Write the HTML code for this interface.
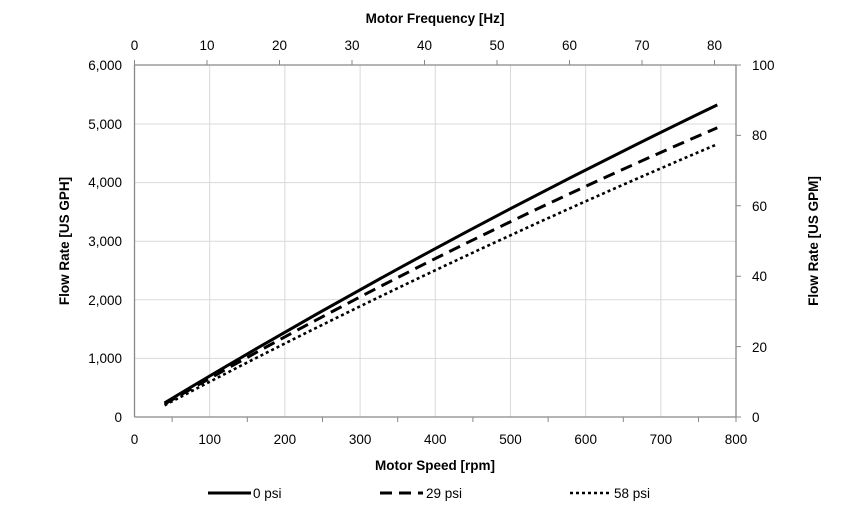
<!DOCTYPE html><html><head><style>body{margin:0;background:#fff}svg{display:block;font-family:"Liberation Sans",sans-serif}</style></head><body>
<svg width="859" height="513" viewBox="0 0 859 513">
<g stroke="#d9d9d9" stroke-width="1">
<line x1="134.5" y1="358.4" x2="736" y2="358.4"/><line x1="134.5" y1="299.8" x2="736" y2="299.8"/><line x1="134.5" y1="241.2" x2="736" y2="241.2"/><line x1="134.5" y1="182.6" x2="736" y2="182.6"/><line x1="134.5" y1="124" x2="736" y2="124"/><line x1="134.5" y1="65" x2="736" y2="65"/>
<line x1="209.7" y1="65" x2="209.7" y2="417"/><line x1="284.9" y1="65" x2="284.9" y2="417"/><line x1="360.1" y1="65" x2="360.1" y2="417"/><line x1="435.3" y1="65" x2="435.3" y2="417"/><line x1="510.5" y1="65" x2="510.5" y2="417"/><line x1="585.7" y1="65" x2="585.7" y2="417"/><line x1="660.9" y1="65" x2="660.9" y2="417"/>
</g>
<g stroke="#888" stroke-width="1.3" fill="none">
<line x1="134.5" y1="65" x2="134.5" y2="417"/><line x1="736" y1="65" x2="736" y2="417"/><line x1="134.5" y1="417" x2="736" y2="417"/><line x1="134.5" y1="65" x2="736" y2="65"/>
</g>
<g stroke="#888" stroke-width="1">
<path d="M172.1 417v5M247.3 417v5M322.5 417v5M397.7 417v5M472.9 417v5M548.1 417v5M623.3 417v5M698.5 417v5M736 417v5"/>
<path d="M134.5 65v-5M207 65v-5M279.5 65v-5M352 65v-5M424.5 65v-5M497 65v-5M569.5 65v-5M642 65v-5M714.5 65v-5"/>
<path d="M736 65h5M736 135.4h5M736 205.8h5M736 276.2h5M736 346.6h5M736 417h5"/>
</g>
<g font-size="13.5" fill="#000">
<g text-anchor="end"><text x="122" y="422">0</text><text x="122" y="363">1,000</text><text x="122" y="305">2,000</text><text x="122" y="246">3,000</text><text x="122" y="187">4,000</text><text x="122" y="129">5,000</text><text x="122" y="70">6,000</text></g>
<g text-anchor="start"><text x="752" y="422">0</text><text x="752" y="352">20</text><text x="752" y="281">40</text><text x="752" y="211">60</text><text x="752" y="140">80</text><text x="752" y="70">100</text></g>
<g text-anchor="middle"><text x="134.5" y="444">0</text><text x="209.7" y="444">100</text><text x="284.9" y="444">200</text><text x="360.1" y="444">300</text><text x="435.3" y="444">400</text><text x="510.5" y="444">500</text><text x="585.7" y="444">600</text><text x="660.9" y="444">700</text><text x="736" y="444">800</text>
<text x="134.5" y="50">0</text><text x="207" y="50">10</text><text x="279.5" y="50">20</text><text x="352" y="50">30</text><text x="424.5" y="50">40</text><text x="497" y="50">50</text><text x="569.5" y="50">60</text><text x="642" y="50">70</text><text x="714.5" y="50">80</text></g>
<g font-weight="bold" text-anchor="middle"><text x="435" y="470">Motor Speed [rpm]</text><text x="435" y="23">Motor Frequency [Hz]</text>
<text transform="translate(69,241) rotate(-90)">Flow Rate [US GPH]</text><text transform="translate(818,241) rotate(-90)">Flow Rate [US GPM]</text></g>
<text x="253" y="498">0 psi</text><text x="426" y="498">29 psi</text><text x="614" y="498">58 psi</text>
</g>
<g fill="none" stroke="#000" stroke-width="3">
<path d="M164.6 402.9Q429.6 243.3 717.3 104.9"/>
<path d="M164.6 404.1Q429.6 251.2 717.3 127.8" stroke-dasharray="12,7"/>
<path d="M164.6 405.3Q429.6 265.8 717.3 144.2" stroke-dasharray="3,3" stroke-width="2.6"/>
<line x1="208" y1="493" x2="251" y2="493"/>
<line x1="380" y1="493" x2="423" y2="493" stroke-dasharray="12,7"/>
<line x1="570" y1="493" x2="612" y2="493" stroke-dasharray="3,3" stroke-width="2.6"/>
</g>
</svg></body></html>
